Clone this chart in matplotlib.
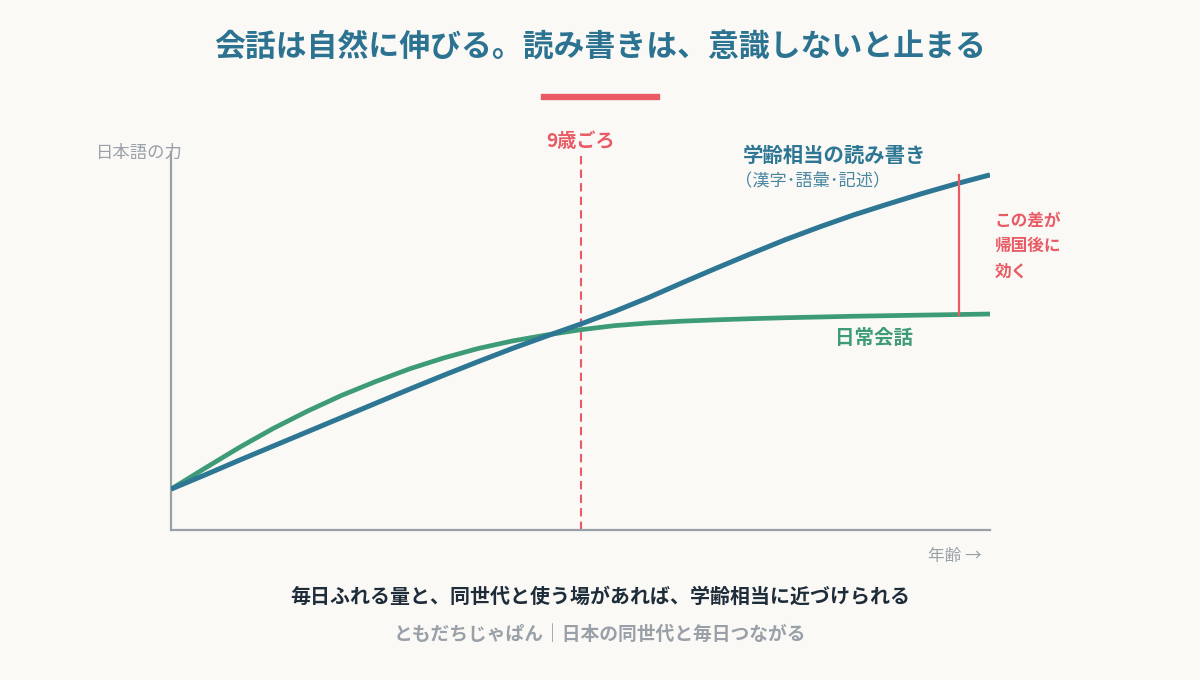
import numpy as np
import matplotlib
matplotlib.use("Agg")
import matplotlib.pyplot as plt
from matplotlib.patches import FancyBboxPatch

plt.rcParams['font.family'] = ['Noto Sans CJK JP', 'DejaVu Sans']

# ages (x) and estimated ability (y, 0-100)
ages = [3, 3.5, 4, 4.5, 5, 5.5, 6, 6.5, 7, 7.5, 8, 8.5, 9,
        9.5, 10, 10.5, 11, 11.5, 12, 12.5, 13, 13.5, 14, 14.5, 15]
literacy = [10.9, 14.7, 18.6, 22.4, 26.2, 30.0, 33.8, 37.6, 41.3, 44.9, 48.4, 51.7, 54.9,
            58.3, 62.0, 66.0, 69.9, 73.7, 77.4, 80.8, 84.0, 86.9, 89.7, 92.3, 94.7]
conversation = [10.9, 16.5, 22.0, 27.1, 31.7, 35.9, 39.6, 43.0, 45.9, 48.4, 50.4, 52.0, 53.4,
                54.5, 55.2, 55.7, 56.05, 56.35, 56.6, 56.8, 57.0, 57.15, 57.3, 57.45, 57.6]
pivot_age = 9
gap_age = 14.55

BG = '#faf9f6'
BLUE = '#2e7794'
GREEN = '#3d9b77'
RED = '#e85a64'
GRAY = '#9aa0a8'

fig = plt.figure(figsize=(12, 6.8), dpi=100, facecolor=BG)
ax = fig.add_axes([171 / 1200, 1 - 530 / 680, 819 / 1200, 378 / 680])
ax.set_facecolor(BG)
ax.set_xlim(3, 15)
ax.set_ylim(0, 100.8)

for s in ['top', 'right']:
    ax.spines[s].set_visible(False)
for s in ['left', 'bottom']:
    ax.spines[s].set_color(GRAY)
    ax.spines[s].set_linewidth(1.6)
ax.set_xticks([])
ax.set_yticks([])

ax.plot(ages, conversation, color=GREEN, lw=3.4, solid_capstyle='butt', solid_joinstyle='round', zorder=3)
ax.plot(ages, literacy, color=BLUE, lw=3.6, solid_capstyle='butt', solid_joinstyle='round', zorder=4)

# 9 years old marker
ax.plot([pivot_age, pivot_age], [0, 101], color=RED, lw=1.5, ls=(0, (4, 2.5)), zorder=2, clip_on=False)
ax.text(pivot_age, 103.7, '9歳ごろ', color=RED, fontsize=13.8, fontweight='bold',
        ha='center', va='center')

# gap between the two lines
g_lo = np.interp(gap_age, ages, conversation)
g_hi = np.interp(gap_age, ages, literacy)
ax.plot([gap_age, gap_age], [g_lo, g_hi + 2], color=RED, lw=1.6, zorder=5)
ax.text(15.07, 75.7, 'この差が\n帰国後に\n効く', color=RED, fontsize=12, fontweight='bold',
        ha='left', va='center', linespacing=1.55)

# series labels
ax.text(11.38, 100, '学齢相当の読み書き', color=BLUE, fontsize=14.7, fontweight='bold',
        ha='left', va='center')
ax.text(11.26, 93.1, '（漢字･語彙･記述）', color='#4a86a0', fontsize=12.4,
        ha='left', va='center')
ax.text(12.73, 51.2, '日常会話', color=GREEN, fontsize=14, fontweight='bold',
        ha='left', va='center')

# axis labels
fig.text(96 / 1200, 1 - 153 / 680, '日本語の力', color=GRAY, fontsize=12.5, ha='left', va='center')
fig.text(982 / 1200, 1 - 557 / 680, '年齢 →', color=GRAY, fontsize=12, ha='right', va='center')

# title and accent bar
fig.text(0.5, 1 - 47 / 680, '会話は自然に伸びる。読み書きは、意識しないと止まる', color='#2c7391',
         fontsize=22.2, fontweight='bold', ha='center', va='center')
fig.patches.append(FancyBboxPatch((542 / 1200, 1 - 99.5 / 680), 117 / 1200, 5 / 680,
                                  boxstyle='round,pad=0.001', transform=fig.transFigure,
                                  facecolor=RED, edgecolor='none'))

# bottom notes
fig.text(0.5, 1 - 596 / 680, '毎日ふれる量と、同世代と使う場があれば、学齢相当に近づけられる', color='#1f2d3a',
         fontsize=14.4, fontweight='bold', ha='center', va='center')
fig.text(0.5, 1 - 634 / 680, 'ともだちじゃぱん｜日本の同世代と毎日つながる', color=GRAY,
         fontsize=13.5, fontweight='bold', ha='center', va='center')

fig.savefig('out.png', dpi=100, facecolor=BG)
